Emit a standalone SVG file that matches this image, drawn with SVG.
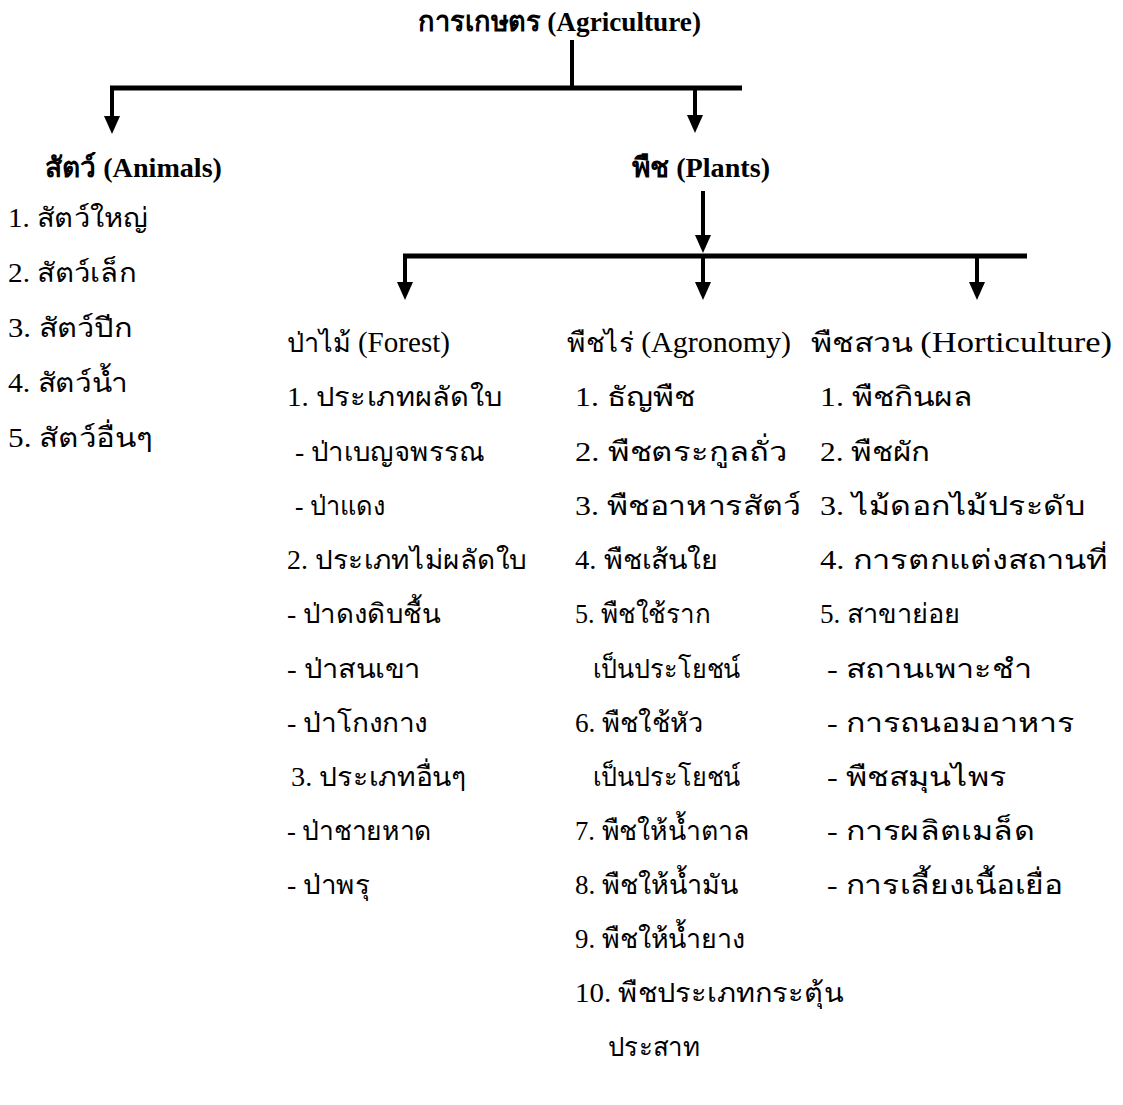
<svg xmlns="http://www.w3.org/2000/svg" width="1123" height="1105" viewBox="0 0 1123 1105">
<defs>
<marker id="ah" viewBox="0 0 18 16" refX="8" refY="8" markerWidth="18" markerHeight="16" markerUnits="userSpaceOnUse" orient="auto">
<path d="M0,0 L18,8 L0,16 z" fill="#000"/>
</marker>
<style>
text{font-family:"Liberation Serif","Noto Sans",serif;font-size:27px;fill:#000}
.b{font-weight:bold;font-size:28px}
.en{font-size:29px}
.h{stroke:#000;stroke-width:5;fill:none}
.v{stroke:#000;stroke-width:4;fill:none}
</style>
</defs>
<rect width="1123" height="1105" fill="#fff"/>
<g id="connectors">
<line class="v" x1="572" y1="40" x2="572" y2="88"/>
<line class="h" x1="110" y1="88" x2="742" y2="88"/>
<line class="v" x1="112" y1="88" x2="112" y2="124" marker-end="url(#ah)"/>
<line class="v" x1="695" y1="88" x2="695" y2="123" marker-end="url(#ah)"/>
<line class="v" x1="703" y1="191" x2="703" y2="243" marker-end="url(#ah)"/>
<line class="h" x1="403" y1="256" x2="1027" y2="256"/>
<line class="v" x1="405" y1="256" x2="405" y2="290" marker-end="url(#ah)"/>
<line class="v" x1="703" y1="256" x2="703" y2="290" marker-end="url(#ah)"/>
<line class="v" x1="977" y1="256" x2="977" y2="290" marker-end="url(#ah)"/>
</g>
<g id="root"><text class="b" x="418" y="31" textLength="283" lengthAdjust="spacingAndGlyphs">การเกษตร (Agriculture)</text></g>
<g id="animals">
<text class="b" x="45" y="177" textLength="177" lengthAdjust="spacingAndGlyphs">สัตว์ (Animals)</text>
<text x="8" y="227" textLength="140" lengthAdjust="spacingAndGlyphs">1. สัตว์ใหญ่</text>
<text x="8" y="282" textLength="128" lengthAdjust="spacingAndGlyphs">2. สัตว์เล็ก</text>
<text x="8" y="337" textLength="124" lengthAdjust="spacingAndGlyphs">3. สัตว์ปีก</text>
<text x="8" y="392" textLength="120" lengthAdjust="spacingAndGlyphs">4. สัตว์น้ำ</text>
<text x="8" y="447" textLength="145" lengthAdjust="spacingAndGlyphs">5. สัตว์อื่นๆ</text>
</g>
<g id="plants"><text class="b" x="632" y="177" textLength="138" lengthAdjust="spacingAndGlyphs">พืช (Plants)</text></g>
<g id="forest">
<text x="287" y="352" textLength="163" lengthAdjust="spacingAndGlyphs">ป่าไม้ <tspan class="en">(Forest)</tspan></text>
<text x="287" y="406" textLength="215" lengthAdjust="spacingAndGlyphs">1. ประเภทผลัดใบ</text>
<text x="295" y="461" textLength="190" lengthAdjust="spacingAndGlyphs">- ป่าเบญจพรรณ</text>
<text x="295" y="515" textLength="90" lengthAdjust="spacingAndGlyphs">- ป่าแดง</text>
<text x="287" y="569" textLength="240" lengthAdjust="spacingAndGlyphs">2. ประเภทไม่ผลัดใบ</text>
<text x="287" y="623" textLength="153" lengthAdjust="spacingAndGlyphs">- ป่าดงดิบชื้น</text>
<text x="287" y="678" textLength="133" lengthAdjust="spacingAndGlyphs">- ป่าสนเขา</text>
<text x="287" y="732" textLength="141" lengthAdjust="spacingAndGlyphs">- ป่าโกงกาง</text>
<text x="291" y="786" textLength="176" lengthAdjust="spacingAndGlyphs">3. ประเภทอื่นๆ</text>
<text x="287" y="840" textLength="145" lengthAdjust="spacingAndGlyphs">- ป่าชายหาด</text>
<text x="287" y="894" textLength="83" lengthAdjust="spacingAndGlyphs">- ป่าพรุ</text>
</g>
<g id="agronomy">
<text x="567" y="352" textLength="224" lengthAdjust="spacingAndGlyphs">พืชไร่ <tspan class="en">(Agronomy)</tspan></text>
<text x="575" y="406" textLength="120" lengthAdjust="spacingAndGlyphs">1. ธัญพืช</text>
<text x="575" y="461" textLength="212" lengthAdjust="spacingAndGlyphs">2. พืชตระกูลถั่ว</text>
<text x="575" y="515" textLength="226" lengthAdjust="spacingAndGlyphs">3. พืชอาหารสัตว์</text>
<text x="575" y="569" textLength="143" lengthAdjust="spacingAndGlyphs">4. พืชเส้นใย</text>
<text x="575" y="623" textLength="135" lengthAdjust="spacingAndGlyphs">5. พืชใช้ราก</text>
<text x="593" y="678" textLength="147" lengthAdjust="spacingAndGlyphs">เป็นประโยชน์</text>
<text x="575" y="732" textLength="128" lengthAdjust="spacingAndGlyphs">6. พืชใช้หัว</text>
<text x="593" y="786" textLength="147" lengthAdjust="spacingAndGlyphs">เป็นประโยชน์</text>
<text x="575" y="840" textLength="175" lengthAdjust="spacingAndGlyphs">7. พืชให้น้ำตาล</text>
<text x="575" y="894" textLength="163" lengthAdjust="spacingAndGlyphs">8. พืชให้น้ำมัน</text>
<text x="575" y="948" textLength="170" lengthAdjust="spacingAndGlyphs">9. พืชให้น้ำยาง</text>
<text x="575" y="1002" textLength="268" lengthAdjust="spacingAndGlyphs">10. พืชประเภทกระตุ้น</text>
<text x="608" y="1056" textLength="92" lengthAdjust="spacingAndGlyphs">ประสาท</text>
</g>
<g id="horticulture">
<text x="811" y="352" textLength="301" lengthAdjust="spacingAndGlyphs">พืชสวน <tspan class="en">(Horticulture)</tspan></text>
<text x="820" y="406" textLength="153" lengthAdjust="spacingAndGlyphs">1. พืชกินผล</text>
<text x="820" y="461" textLength="110" lengthAdjust="spacingAndGlyphs">2. พืชผัก</text>
<text x="820" y="515" textLength="265" lengthAdjust="spacingAndGlyphs">3. ไม้ดอกไม้ประดับ</text>
<text x="820" y="569" textLength="288" lengthAdjust="spacingAndGlyphs">4. การตกแต่งสถานที่</text>
<text x="820" y="623" textLength="140" lengthAdjust="spacingAndGlyphs">5. สาขาย่อย</text>
<text x="827" y="678" textLength="205" lengthAdjust="spacingAndGlyphs">- สถานเพาะชำ</text>
<text x="827" y="732" textLength="248" lengthAdjust="spacingAndGlyphs">- การถนอมอาหาร</text>
<text x="827" y="786" textLength="180" lengthAdjust="spacingAndGlyphs">- พืชสมุนไพร</text>
<text x="827" y="840" textLength="208" lengthAdjust="spacingAndGlyphs">- การผลิตเมล็ด</text>
<text x="827" y="894" textLength="236" lengthAdjust="spacingAndGlyphs">- การเลี้ยงเนื้อเยื่อ</text>
</g>
</svg>
